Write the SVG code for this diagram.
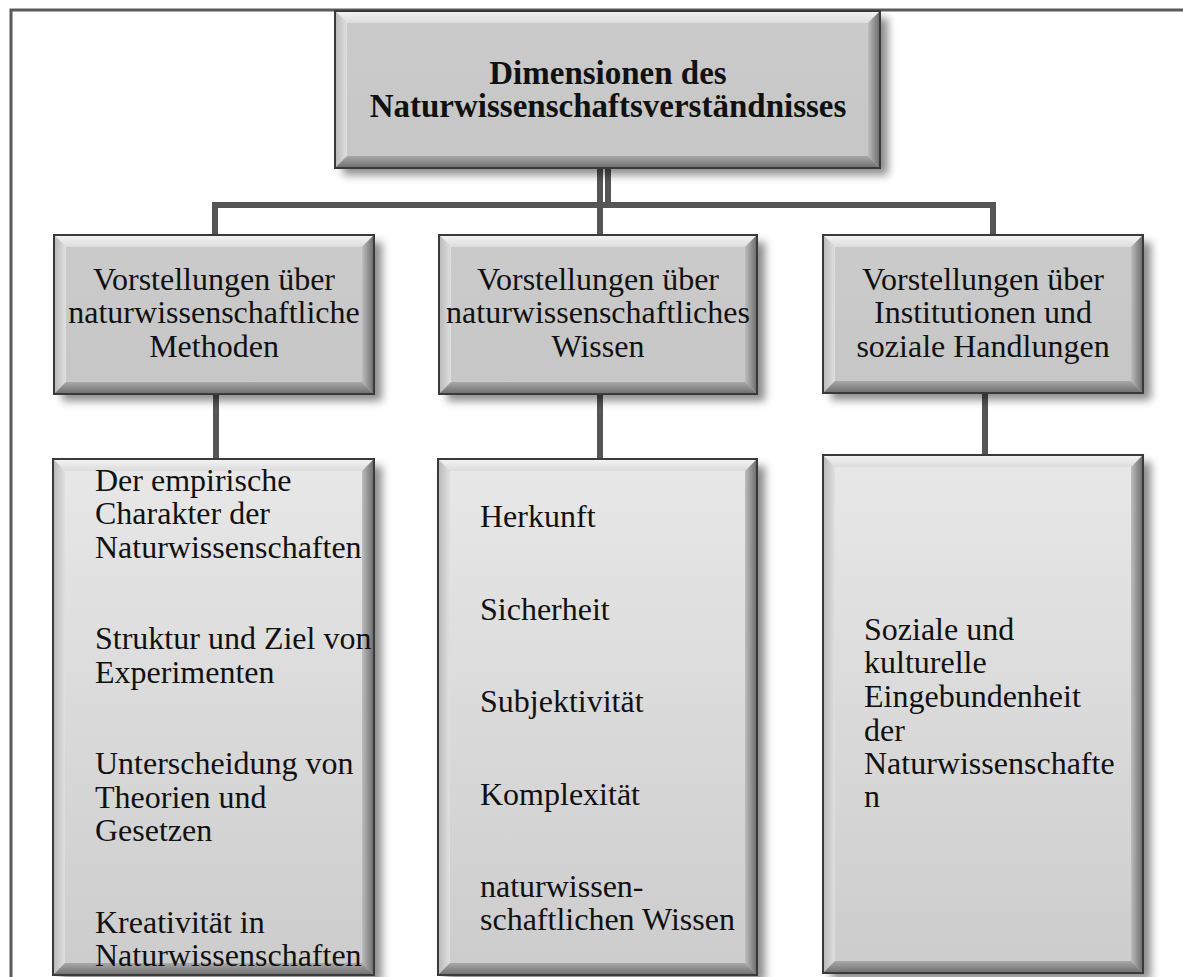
<svg xmlns="http://www.w3.org/2000/svg" width="1183" height="977" viewBox="0 0 1183 977">
<defs>
<filter id="sh" x="-10%" y="-10%" width="130%" height="130%">
<feDropShadow dx="8" dy="7" stdDeviation="4" flood-color="#000" flood-opacity="0.45"/>
</filter>
<linearGradient id="fillA" x1="0" y1="0" x2="0" y2="1"><stop offset="0" stop-color="#cbcbcb"/><stop offset="1" stop-color="#c6c6c6"/></linearGradient>
<linearGradient id="fillB" x1="0" y1="0" x2="0" y2="1"><stop offset="0" stop-color="#e8e8e8"/><stop offset="1" stop-color="#cccccc"/></linearGradient>
<linearGradient id="bt" x1="0" y1="0" x2="0" y2="1"><stop offset="0" stop-color="#f4f4f4"/><stop offset="1" stop-color="#dcdcdc"/></linearGradient>
<linearGradient id="bl" x1="0" y1="0" x2="1" y2="0"><stop offset="0" stop-color="#b8b8b8"/><stop offset="1" stop-color="#e0e0e0"/></linearGradient>
<linearGradient id="br" x1="0" y1="0" x2="1" y2="0"><stop offset="0" stop-color="#bdbdbd"/><stop offset="1" stop-color="#6a6a6a"/></linearGradient>
<linearGradient id="bb" x1="0" y1="0" x2="0" y2="1"><stop offset="0" stop-color="#a8a8a8"/><stop offset="1" stop-color="#6e6e6e"/></linearGradient>
</defs>
<style>
.frame{stroke:#5a5a5a;stroke-width:3;fill:none}
.con{stroke:#555555;stroke-width:6;fill:none}
.base{filter:url(#sh);stroke:none}
.outline{fill:none;stroke:#3a3a3a;stroke-width:2}
.t{font-family:"Liberation Serif","Times New Roman",serif;font-size:32px;fill:#111}
.c{text-anchor:middle}
.b{font-weight:bold;font-size:33px}
</style>
<rect width="1183" height="977" fill="#ffffff"/>
<path class="frame" d="M11 977 V10 H1183"/>

<g id="connectors">
<path class="con" d="M600 168 V235"/>
<path class="con" d="M608 168 V205"/>
<path class="con" d="M213 205 H996"/>
<path class="con" d="M215 202 V235"/>
<path class="con" d="M993 205 V235"/>
<path class="con" d="M216 394 V459"/>
<path class="con" d="M600 394 V459"/>
<path class="con" d="M985 393 V455"/>
</g>

<g id="n0">
<rect class="base" x="335" y="11" width="545" height="157" fill="url(#fillA)"/>
<polygon points="335,11 880,11 868,23 347,23" fill="url(#bt)"/>
<polygon points="335,11 347,23 347,156 335,168" fill="url(#bl)"/>
<polygon points="880,11 880,168 868,156 868,23" fill="url(#br)"/>
<polygon points="335,168 880,168 868,156 347,156" fill="url(#bb)"/>
<rect class="outline" x="335" y="11" width="545" height="157"/>
<text class="t c b" x="608" y="84">Dimensionen des</text>
<text class="t c b" x="608" y="117">Naturwissenschaftsverständnisses</text>
</g>

<g id="n1">
<rect class="base" x="54" y="235" width="320" height="159" fill="url(#fillA)"/>
<polygon points="54,235 374,235 362,247 66,247" fill="url(#bt)"/>
<polygon points="54,235 66,247 66,382 54,394" fill="url(#bl)"/>
<polygon points="374,235 374,394 362,382 362,247" fill="url(#br)"/>
<polygon points="54,394 374,394 362,382 66,382" fill="url(#bb)"/>
<rect class="outline" x="54" y="235" width="320" height="159"/>
<text class="t c" x="214" y="290">Vorstellungen über</text>
<text class="t c" x="214" y="323">naturwissenschaftliche</text>
<text class="t c" x="214" y="357">Methoden</text>
</g>

<g id="n2">
<rect class="base" x="439" y="235" width="318" height="159" fill="url(#fillA)"/>
<polygon points="439,235 757,235 745,247 451,247" fill="url(#bt)"/>
<polygon points="439,235 451,247 451,382 439,394" fill="url(#bl)"/>
<polygon points="757,235 757,394 745,382 745,247" fill="url(#br)"/>
<polygon points="439,394 757,394 745,382 451,382" fill="url(#bb)"/>
<rect class="outline" x="439" y="235" width="318" height="159"/>
<text class="t c" x="598" y="290">Vorstellungen über</text>
<text class="t c" x="598" y="323">naturwissenschaftliches</text>
<text class="t c" x="598" y="357">Wissen</text>
</g>

<g id="n3">
<rect class="base" x="823" y="235" width="320" height="158" fill="url(#fillA)"/>
<polygon points="823,235 1143,235 1131,247 835,247" fill="url(#bt)"/>
<polygon points="823,235 835,247 835,381 823,393" fill="url(#bl)"/>
<polygon points="1143,235 1143,393 1131,381 1131,247" fill="url(#br)"/>
<polygon points="823,393 1143,393 1131,381 835,381" fill="url(#bb)"/>
<rect class="outline" x="823" y="235" width="320" height="158"/>
<text class="t c" x="983" y="290">Vorstellungen über</text>
<text class="t c" x="983" y="323">Institutionen und</text>
<text class="t c" x="983" y="357">soziale Handlungen</text>
</g>

<g id="n4">
<rect class="base" x="53" y="459" width="321" height="516" fill="url(#fillB)"/>
<polygon points="53,459 374,459 362,471 65,471" fill="url(#bt)"/>
<polygon points="53,459 65,471 65,963 53,975" fill="url(#bl)"/>
<polygon points="374,459 374,975 362,963 362,471" fill="url(#br)"/>
<polygon points="53,975 374,975 362,963 65,963" fill="url(#bb)"/>
<rect class="outline" x="53" y="459" width="321" height="516"/>
<text class="t" x="95" y="491">Der empirische</text>
<text class="t" x="95" y="524">Charakter der</text>
<text class="t" x="95" y="558">Naturwissenschaften</text>
<text class="t" x="95" y="649">Struktur und Ziel von</text>
<text class="t" x="95" y="683">Experimenten</text>
<text class="t" x="95" y="774">Unterscheidung von</text>
<text class="t" x="95" y="808">Theorien und</text>
<text class="t" x="95" y="841">Gesetzen</text>
<text class="t" x="95" y="933">Kreativität in</text>
<text class="t" x="95" y="966">Naturwissenschaften</text>
</g>

<g id="n5">
<rect class="base" x="438" y="459" width="319" height="516" fill="url(#fillB)"/>
<polygon points="438,459 757,459 745,471 450,471" fill="url(#bt)"/>
<polygon points="438,459 450,471 450,963 438,975" fill="url(#bl)"/>
<polygon points="757,459 757,975 745,963 745,471" fill="url(#br)"/>
<polygon points="438,975 757,975 745,963 450,963" fill="url(#bb)"/>
<rect class="outline" x="438" y="459" width="319" height="516"/>
<text class="t" x="480" y="527">Herkunft</text>
<text class="t" x="480" y="620">Sicherheit</text>
<text class="t" x="480" y="712">Subjektivität</text>
<text class="t" x="480" y="805">Komplexität</text>
<text class="t" x="480" y="897">naturwissen-</text>
<text class="t" x="480" y="930">schaftlichen Wissen</text>
</g>

<g id="n6">
<rect class="base" x="823" y="455" width="320" height="518" fill="url(#fillB)"/>
<polygon points="823,455 1143,455 1131,467 835,467" fill="url(#bt)"/>
<polygon points="823,455 835,467 835,961 823,973" fill="url(#bl)"/>
<polygon points="1143,455 1143,973 1131,961 1131,467" fill="url(#br)"/>
<polygon points="823,973 1143,973 1131,961 835,961" fill="url(#bb)"/>
<rect class="outline" x="823" y="455" width="320" height="518"/>
<text class="t" x="864" y="640">Soziale und</text>
<text class="t" x="864" y="673">kulturelle</text>
<text class="t" x="864" y="707">Eingebundenheit</text>
<text class="t" x="864" y="741">der</text>
<text class="t" x="864" y="774">Naturwissenschafte</text>
<text class="t" x="864" y="807">n</text>
</g>
</svg>
